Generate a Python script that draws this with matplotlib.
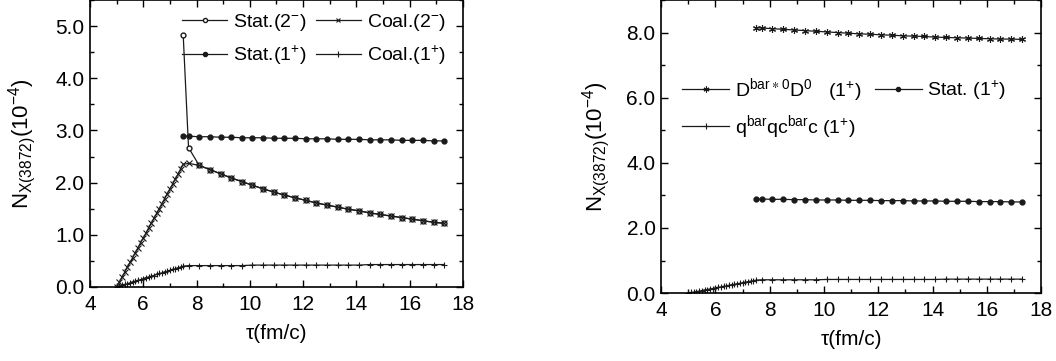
import matplotlib
matplotlib.use('Agg')
import matplotlib.pyplot as plt
from matplotlib.ticker import MultipleLocator, FormatStrFormatter

plt.rcParams['font.family'] = ['Liberation Sans', 'DejaVu Sans']
plt.rcParams['mathtext.fontset'] = 'custom'
plt.rcParams['mathtext.rm'] = 'Liberation Sans'
plt.rcParams['mathtext.default'] = 'regular'

# time axis (fm/c)
x_rise = [5.0, 5.1, 5.2, 5.3, 5.4, 5.5, 5.6, 5.7, 5.8, 5.9, 6.0, 6.1, 6.2,
          6.3, 6.4, 6.5, 6.6, 6.7, 6.8, 6.9, 7.0, 7.1, 7.2, 7.3, 7.4, 7.5]
x_late = [7.7, 8.1, 8.5, 8.9, 9.3, 9.7, 10.1, 10.5, 10.9, 11.3, 11.7, 12.1, 12.5,
          12.9, 13.3, 13.7, 14.1, 14.5, 14.9, 15.3, 15.7, 16.1, 16.5, 16.9, 17.3]
x_stat = [7.5] + x_late

# common decay of the 2- curves (from 8.1 on)
decay_2m = [2.33, 2.25, 2.17, 2.09, 2.02, 1.95, 1.88, 1.82, 1.76, 1.71, 1.66, 1.61,
            1.57, 1.53, 1.49, 1.46, 1.42, 1.39, 1.36, 1.33, 1.30, 1.27, 1.24, 1.22]

stat_2m = [4.82, 2.67] + decay_2m
coal_2m_rise = [0.00, 0.09, 0.19, 0.28, 0.38, 0.47, 0.56, 0.66, 0.75, 0.85, 0.94, 1.03, 1.13,
                1.22, 1.32, 1.41, 1.50, 1.60, 1.69, 1.79, 1.88, 1.97, 2.07, 2.16, 2.26, 2.35]
coal_2m = coal_2m_rise + [2.37] + decay_2m

stat_1p = [2.89, 2.89, 2.88, 2.88, 2.87, 2.87, 2.86, 2.86, 2.86, 2.85, 2.85, 2.85, 2.84,
           2.84, 2.84, 2.83, 2.83, 2.83, 2.82, 2.82, 2.82, 2.81, 2.81, 2.81, 2.80, 2.80]
coal_1p_rise = [0.00, 0.02, 0.03, 0.05, 0.06, 0.08, 0.10, 0.11, 0.13, 0.14, 0.16, 0.18, 0.19,
                0.21, 0.22, 0.24, 0.26, 0.27, 0.29, 0.30, 0.32, 0.34, 0.35, 0.37, 0.38, 0.40]
coal_1p_late = [0.41, 0.41, 0.41, 0.41, 0.41, 0.41, 0.42, 0.42, 0.42, 0.42, 0.42, 0.42, 0.42,
                0.42, 0.42, 0.42, 0.42, 0.43, 0.43, 0.43, 0.43, 0.43, 0.43, 0.43, 0.43]
coal_1p = coal_1p_rise + coal_1p_late

dd_1p = [8.15, 8.14, 8.12, 8.10, 8.08, 8.06, 8.04, 8.02, 8.00, 7.98, 7.96, 7.95, 7.93,
         7.92, 7.90, 7.89, 7.88, 7.86, 7.85, 7.84, 7.83, 7.82, 7.81, 7.80, 7.80, 7.79]

fig = plt.figure(figsize=(10.56, 3.61), dpi=100)
ax1 = fig.add_axes([0.0852, 0.205, 0.3532, 0.795])
ax2 = fig.add_axes([0.626, 0.188, 0.360, 0.812])

lc = '0.1'
lw = 0.9
fs = 15


def style(ax, ymax, ymaj, ymin, ypad):
    ax.set_xlim(4, 18)
    ax.set_ylim(0, ymax)
    ax.xaxis.set_major_locator(MultipleLocator(2))
    ax.xaxis.set_minor_locator(MultipleLocator(1))
    ax.yaxis.set_major_locator(MultipleLocator(ymaj))
    ax.yaxis.set_minor_locator(MultipleLocator(ymin))
    ax.yaxis.set_major_formatter(FormatStrFormatter('%.1f'))
    ax.tick_params(which='both', direction='in', top=True, right=True, labelsize=fs,
                   width=1.0)
    ax.tick_params(which='major', length=5)
    ax.tick_params(which='minor', length=3)
    ax.tick_params(axis='x', which='major', pad=6)
    ax.tick_params(axis='y', which='major', pad=4)
    for s in ax.spines.values():
        s.set_linewidth(1.2)
    ax.set_xlabel('τ(fm/c)', fontsize=15, labelpad=7)
    ax.set_ylabel(r'N$_{X(3872)}$(10$^{-4}$)', fontsize=16, labelpad=ypad)


# left panel
h1, = ax1.plot(x_stat, stat_2m, color=lc, lw=lw,
               marker='o', mfc='white', mec=lc, ms=3.5, label='Stat.(2$^{-}$)')
h2, = ax1.plot(x_rise + x_late, coal_2m, color=lc, lw=lw, marker='x', ms=4,
               mew=0.8, label='Coal.(2$^{-}$)')
h3, = ax1.plot(x_stat, stat_1p, color=lc, lw=lw, marker='o', ms=3.5,
               label='Stat.(1$^{+}$)')
h4, = ax1.plot(x_rise + x_late, coal_1p, color=lc, lw=lw, marker='+', ms=5,
               mew=0.8, label='Coal.(1$^{+}$)')
style(ax1, 5.5, 1.0, 0.5, 12)
ax1.legend(handles=[h1, h3, h2, h4], ncol=2, frameon=False, fontsize=14,
           loc='upper right', bbox_to_anchor=(1.0, 1.02), handlelength=2.3,
           handletextpad=0.3, columnspacing=0.5, labelspacing=0.55, markerscale=0.85)

# right panel
g1, = ax2.plot(x_stat, dd_1p, color=lc, lw=lw, marker=(6, 2, 0), ms=5, mew=0.8,
               label=r'D$^{bar\ast0}$D$^{0}$   (1$^{+}$)')
g2, = ax2.plot(x_stat, stat_1p, color=lc, lw=lw, marker='o', ms=3.5,
               label='Stat. (1$^{+}$)')
g3, = ax2.plot(x_rise + x_late, coal_1p, color=lc, lw=lw, marker='+', ms=5,
               mew=0.8, label=r'q$^{bar}$qc$^{bar}$c (1$^{+}$)')
style(ax2, 9.0, 2.0, 1.0, 10)
ax2.legend(handles=[g1, g3, g2], ncol=2, frameon=False, fontsize=14,
           loc='upper left', bbox_to_anchor=(0.01, 0.80), handlelength=2.4,
           handletextpad=0.3, columnspacing=0.7, labelspacing=0.45, markerscale=0.85)

fig.savefig('out.png', dpi=100)
